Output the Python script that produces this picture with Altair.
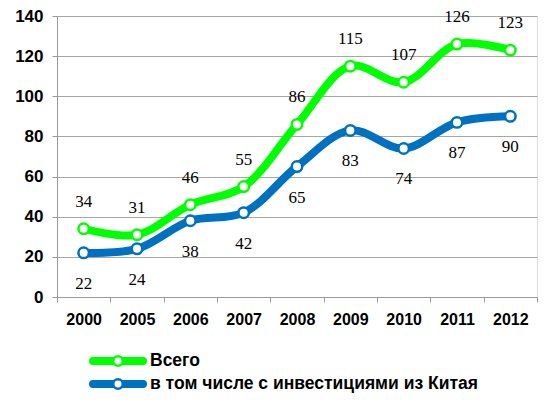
import altair as alt
import pandas as pd

years = ["2000", "2005", "2006", "2007", "2008", "2009", "2010", "2011", "2012"]
total = [34, 31, 46, 55, 86, 115, 107, 126, 123]
china = [22, 24, 38, 42, 65, 83, 74, 87, 90]
series_names = ["Всего", "в том числе с инвестициями из Китая"]
colors = ["#00FF00", "#0070C0"]

rows = []
for y, a, b in zip(years, total, china):
    rows.append({"year": y, "value": a, "series": series_names[0]})
    rows.append({"year": y, "value": b, "series": series_names[1]})
df = pd.DataFrame(rows)

SERIF = "Times New Roman, Liberation Serif, DejaVu Serif, serif"

x_enc = alt.X("year:O", sort=years, title=None,
              scale=alt.Scale(type="band", paddingInner=0, paddingOuter=0),
              axis=alt.Axis(labelAngle=0, tickBand="extent", grid=False,
                            labelFont="Liberation Sans", labelFontWeight="bold",
                            labelFontSize=16, labelColor="#000000",
                            domainColor="#999999", tickColor="#999999",
                            tickSize=5, labelPadding=9))
y_enc = alt.Y("value:Q", title=None,
              scale=alt.Scale(domain=[0, 140]),
              axis=alt.Axis(values=list(range(0, 141, 20)), grid=True,
                            gridColor="#A6A6A6", gridWidth=1.2,
                            labelFont="Liberation Sans", labelFontWeight="bold",
                            labelFontSize=17, labelColor="#000000",
                            domainColor="#999999", tickColor="#999999",
                            tickSize=5, labelPadding=9))
color_enc = alt.Color("series:N", scale=alt.Scale(domain=series_names, range=colors), legend=None)

base = alt.Chart(df)
lines = base.mark_line(strokeWidth=8, interpolate="catmull-rom").encode(
    x=x_enc, y=y_enc, color=color_enc)
points = base.mark_point(filled=True, fill="white", strokeWidth=2.5, size=110, opacity=1).encode(
    x=x_enc, y=y_enc, stroke=alt.Stroke("series:N", scale=alt.Scale(domain=series_names, range=colors), legend=None))

lbl_top = alt.Chart(df[df.series == series_names[0]]).mark_text(
    font=SERIF, fontSize=17, dy=-27, color="#000000").encode(
    x=x_enc, y=y_enc, text="value:Q")
lbl_bot = alt.Chart(df[df.series == series_names[1]]).mark_text(
    font=SERIF, fontSize=17, dy=31, color="#000000").encode(
    x=x_enc, y=y_enc, text="value:Q")

# Legend built from series names
leg_layers = []
leg_y = [345, 368]
for name, col, ly in zip(series_names, colors, leg_y):
    ldf = pd.DataFrame({"series": [name]})
    c = alt.Chart(ldf)
    leg_layers.append(c.mark_rule(strokeWidth=8, color=col, strokeCap="round").encode(
        x=alt.value(36), x2=alt.value(86), y=alt.value(ly)))
    leg_layers.append(c.mark_point(filled=True, fill="white", stroke=col, strokeWidth=2.5,
                                   size=90, opacity=1).encode(
        x=alt.value(61), y=alt.value(ly)))
    leg_layers.append(c.mark_text(align="left", baseline="middle", font="Liberation Sans",
                                  fontWeight="bold", fontSize=17.5, color="#000000").encode(
        x=alt.value(93), y=alt.value(ly), text="series:N"))

chart = alt.layer(lines, points, lbl_top, lbl_bot, *leg_layers).properties(
    width=480, height=281,
    autosize=alt.AutoSizeParams(type="none"),
    padding={"left": 49, "top": 8, "right": 15, "bottom": 98},
).configure_view(strokeWidth=0).configure(background="white")

chart.save("out.html", embed_options={"renderer": "svg", "actions": False})
